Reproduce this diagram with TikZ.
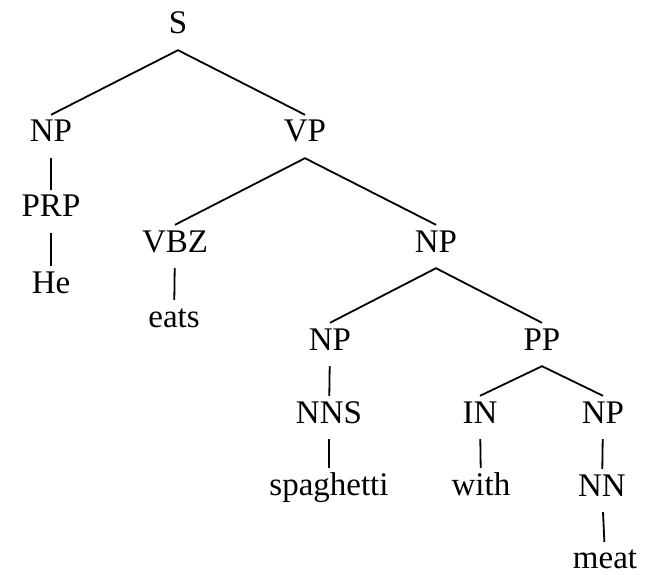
\documentclass[tikz,border=0pt]{standalone}
\usepackage{fontspec}
\setmainfont{Liberation Serif}
\usetikzlibrary{positioning}

\tikzset{
  cat/.style={anchor=base,inner xsep=1pt,inner ysep=6pt,text height=21pt,text depth=10pt,
    font=\fontsize{33}{38}\selectfont},
  lastword/.style={cat,inner ysep=1pt,text height=25pt,text depth=0pt},
  edge/.style={draw=black,line width=1.8pt}
}

\begin{document}
\begin{tikzpicture}[x=1pt,y=-1pt]
  \useasboundingbox (0,0) rectangle (646,575);
  \node[cat] (s) at (178,34) {S};
  \node[cat] (np) at (51,142) {NP};
  \node[cat] (vp) at (305,142) {VP};
  \node[cat] (prp) at (51,217) {PRP};
  \node[cat] (he) at (51,293) {He};
  \node[cat] (vbz) at (175,252) {VBZ};
  \node[cat] (npobj) at (436,252) {NP};
  \node[cat] (eats) at (174,327) {eats};
  \node[cat] (nphead) at (330,350) {NP};
  \node[cat] (pp) at (542,350) {PP};
  \node[cat] (nns) at (329,423) {NNS};
  \node[cat] (in) at (480,423) {IN};
  \node[cat] (nppp) at (603,423) {NP};
  \node[cat] (spag) at (329,495) {spaghetti};
  \node[cat] (with) at (481,495) {with};
  \node[cat] (nn) at (602,496) {NN};
  \node[lastword] (meat) at (605,568) {meat};
  \draw[edge] (np.north) -- (s.south) -- (vp.north);
  \draw[edge] (np) -- (prp);
  \draw[edge] (prp) -- (he);
  \draw[edge] (vbz.north) -- (vp.south) -- (npobj.north);
  \draw[edge] (vbz) -- (eats);
  \draw[edge] (nphead.north) -- (npobj.south) -- (pp.north);
  \draw[edge] (nphead) -- (nns);
  \draw[edge] (nns) -- (spag);
  \draw[edge] (in.north) -- (pp.south) -- (nppp.north);
  \draw[edge] (in) -- (with);
  \draw[edge] (nppp) -- (nn);
  \draw[edge] (nn) -- (meat);
\end{tikzpicture}
\end{document}
